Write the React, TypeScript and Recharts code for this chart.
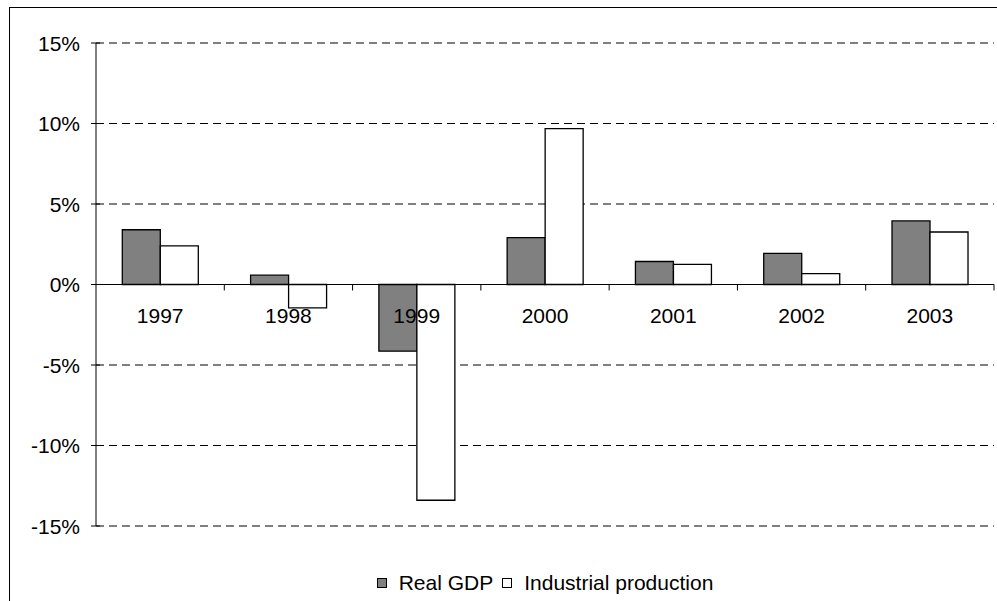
import React from "react";
import {
  BarChart,
  Bar,
  XAxis,
  YAxis,
  CartesianGrid,
  ReferenceLine,
  Legend,
} from "recharts";

// Annual growth rates, percent
const years = ["1997", "1998", "1999", "2000", "2001", "2002", "2003"];
const realGdp = [3.4, 0.58, -4.14, 2.91, 1.43, 1.93, 3.95];
const industrialProduction = [2.4, -1.45, -13.4, 9.68, 1.25, 0.67, 3.26];
const yTicks = [-15, -10, -5, 0, 5, 10, 15];

const data = years.map((year, i) => ({
  year,
  gdp: realGdp[i],
  ip: industrialProduction[i],
}));

const FONT = "'Liberation Sans', Arial, Helvetica, sans-serif";
const FONT_SIZE = 21;

const WIDTH = 997;
const HEIGHT = 601;
const X_AXIS_HEIGHT = 30;
const MARGIN = { top: 43, right: 3, bottom: 75 - X_AXIS_HEIGHT, left: 0 };
const Y_AXIS_WIDTH = 96;
const Y_MIN = -15;
const Y_MAX = 15;

const PLOT_LEFT = MARGIN.left + Y_AXIS_WIDTH;
const PLOT_WIDTH = WIDTH - PLOT_LEFT - MARGIN.right;
const PLOT_HEIGHT = HEIGHT - MARGIN.top - MARGIN.bottom - X_AXIS_HEIGHT;
const ZERO_Y = MARGIN.top + (PLOT_HEIGHT * Y_MAX) / (Y_MAX - Y_MIN);
const BAND = PLOT_WIDTH / years.length;

const YTick = (props: any) => {
  const { y, payload } = props;
  const axisX = PLOT_LEFT;
  return (
    <g>
      <line x1={axisX - 5} x2={axisX + 4} y1={y} y2={y} stroke="#000" strokeWidth={1} />
      <text
        x={axisX - 16}
        y={y}
        dy="0.36em"
        textAnchor="end"
        fontFamily={FONT}
        fontSize={FONT_SIZE}
        fill="#000"
      >
        {`${payload.value}%`}
      </text>
    </g>
  );
};

// Category labels sit just under the zero line, with tick marks between categories
const XTick = (props: any) => {
  const { x, payload, index } = props;
  const last = index === years.length - 1;
  return (
    <g>
      {index > 0 && (
        <line x1={x - BAND / 2} x2={x - BAND / 2} y1={ZERO_Y} y2={ZERO_Y + 6} stroke="#000" />
      )}
      {last && (
        <line x1={x + BAND / 2} x2={x + BAND / 2} y1={ZERO_Y} y2={ZERO_Y + 6} stroke="#000" />
      )}
      <text
        x={x}
        y={ZERO_Y + 31}
        dy="0.36em"
        textAnchor="middle"
        fontFamily={FONT}
        fontSize={FONT_SIZE}
        fill="#000"
      >
        {payload.value}
      </text>
    </g>
  );
};

const LegendContent = (props: any) => {
  const { payload = [] } = props;
  return (
    <div
      style={{
        display: "flex",
        justifyContent: "center",
        alignItems: "center",
        fontFamily: FONT,
        fontSize: FONT_SIZE,
        color: "#000",
        lineHeight: "26px",
        whiteSpace: "nowrap",
      }}
    >
      {payload.map((entry: any, i: number) => (
        <span
          key={entry.value}
          style={{ display: "inline-flex", alignItems: "center", marginLeft: i > 0 ? 9 : 0 }}
        >
          <span
            style={{
              display: "inline-block",
              width: 8,
              height: 8,
              border: "1px solid #000",
              background: entry.payload?.fill ?? entry.color,
              marginRight: 12,
            }}
          />
          {entry.value}
        </span>
      ))}
    </div>
  );
};

export default function App() {
  return (
    <div
      style={{
        position: "fixed",
        left: 0,
        top: 0,
        width: WIDTH,
        height: HEIGHT,
        background: "#fff",
        overflow: "hidden",
      }}
    >
      <div
        style={{
          position: "absolute",
          left: 9,
          top: 7,
          width: WIDTH,
          height: HEIGHT,
          borderLeft: "1px solid #000",
          borderTop: "1px solid #000",
          pointerEvents: "none",
        }}
      />
      <BarChart
        width={WIDTH}
        height={HEIGHT}
        data={data}
        margin={MARGIN}
        barCategoryGap="20.5%"
        barGap={0}
      >
        <CartesianGrid
          horizontal
          vertical={false}
          stroke="#000"
          strokeDasharray="8 5"
        />
        <Bar
          dataKey="gdp"
          name="Real GDP"
          fill="#808080"
          stroke="#000"
          strokeWidth={1.3}
          isAnimationActive={false}
        />
        <Bar
          dataKey="ip"
          name="Industrial production"
          fill="#ffffff"
          stroke="#000"
          strokeWidth={1.3}
          isAnimationActive={false}
        />
        <ReferenceLine y={0} stroke="#000" strokeWidth={1} />
        <XAxis
          dataKey="year"
          height={X_AXIS_HEIGHT}
          axisLine={false}
          tickLine={false}
          tick={<XTick />}
          interval={0}
        />
        <YAxis
          width={Y_AXIS_WIDTH}
          domain={[Y_MIN, Y_MAX]}
          ticks={yTicks}
          interval={0}
          axisLine={{ stroke: "#000" }}
          tickLine={false}
          tick={<YTick />}
        />
        <Legend
          verticalAlign="middle"
          align="center"
          itemSorter={null}
          content={<LegendContent />}
          wrapperStyle={{ top: 570, left: PLOT_LEFT, width: PLOT_WIDTH, height: 26 }}
        />
      </BarChart>
    </div>
  );
}
